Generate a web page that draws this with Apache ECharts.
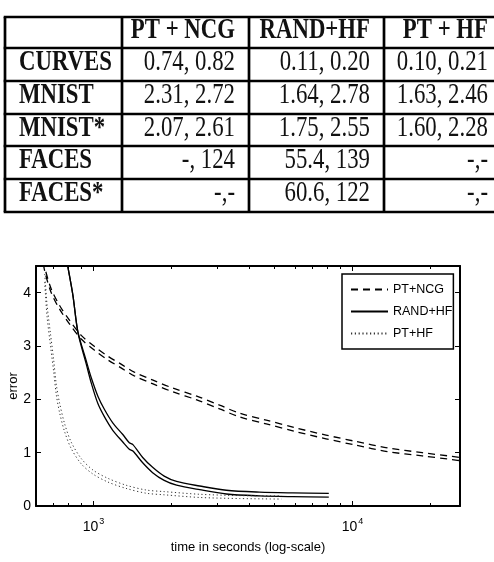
<!DOCTYPE html>
<html>
<head>
<meta charset="utf-8">
<script src="https://cdn.jsdelivr.net/npm/echarts@6/dist/echarts.min.js"></script>
<style>
html, body { margin: 0; padding: 0; background: #fff; }
#main { width: 494px; height: 562px; }
</style>
</head>
<body>
<div id="main"></div>
<script>
// ---- table values ----
var colNames = ['PT + NCG', 'RAND+HF', 'PT + HF'];
var rowNames = ['CURVES', 'MNIST', 'MNIST*', 'FACES', 'FACES*'];
var ptNcgCells = ['0.74, 0.82', '2.31, 2.72', '2.07, 2.61', '-, 124', '-,-'];
var randHfCells = ['0.11, 0.20', '1.64, 2.78', '1.75, 2.55', '55.4, 139', '60.6, 122'];
var ptHfCells = ['0.10, 0.21', '1.63, 2.46', '1.60, 2.28', '-,-', '-,-'];

// ---- curves: time in seconds / error ----
var ptNcgTime = [630, 648, 687, 740, 809, 897, 1009, 1136, 1278, 1438, 1698, 2026, 2505, 3069, 3664, 4645, 5973, 7900, 10310, 13640, 18580, 24250, 27000];
var ptNcgUpper = [4.83, 4.48, 4.07, 3.76, 3.48, 3.20, 2.99, 2.81, 2.66, 2.51, 2.36, 2.21, 2.06, 1.89, 1.74, 1.61, 1.47, 1.33, 1.21, 1.09, 1.00, 0.93, 0.90];
var ptNcgLower = [4.76, 4.41, 4.00, 3.69, 3.41, 3.13, 2.92, 2.74, 2.59, 2.44, 2.29, 2.14, 1.99, 1.82, 1.67, 1.54, 1.40, 1.26, 1.14, 1.02, 0.94, 0.87, 0.84];

var randHfTime = [780, 797, 833, 871, 937, 980, 1040, 1103, 1187, 1298, 1375, 1420, 1549, 1692, 1875, 2093, 2571, 3258, 4376, 5876, 8100];
var randHfUpper = [4.75, 4.48, 3.95, 3.27, 2.73, 2.41, 2.06, 1.81, 1.56, 1.34, 1.185, 1.15, 0.91, 0.725, 0.56, 0.46, 0.375, 0.295, 0.26, 0.245, 0.235];
var randHfLower = [4.75, 4.48, 3.95, 3.25, 2.67, 2.31, 1.92, 1.67, 1.42, 1.20, 1.065, 1.03, 0.81, 0.625, 0.48, 0.39, 0.305, 0.225, 0.19, 0.175, 0.165];

var ptHfTime = [648, 652, 662, 682, 702, 719, 740, 773, 820, 897, 995, 1136, 1336, 1596, 1875, 2571, 3664, 5321];
var ptHfUpper = [4.35, 4.20, 3.77, 3.24, 2.74, 2.27, 1.93, 1.55, 1.20, 0.89, 0.675, 0.52, 0.39, 0.30, 0.27, 0.22, 0.195, 0.19];
var ptHfLower = [4.20, 4.00, 3.55, 3.02, 2.52, 2.08, 1.75, 1.40, 1.08, 0.79, 0.60, 0.45, 0.33, 0.24, 0.21, 0.16, 0.14, 0.13];

var majorTicks = [1000, 10000];
var minorTicks = [700, 800, 900, 2000, 3000, 4000, 5000, 6000, 7000, 8000, 9000, 20000];

var mychart = echarts.init(document.getElementById('main'), null, { renderer: 'canvas' });

var sansFont = '"Liberation Sans", Arial, Helvetica, sans-serif';
var serifFont = '"Liberation Serif", "Times New Roman", serif';

// table drawn with graphic elements
var colX = [5, 122, 249, 384, 502];
var rowY = [17, 48, 81, 114, 146, 179, 212];
var tableCols = [ptNcgCells, randHfCells, ptHfCells];
var tableGraphics = [];
rowY.forEach(function (y) {
    tableGraphics.push({ type: 'line', shape: { x1: colX[0] - 1.3, y1: y, x2: 494, y2: y }, style: { stroke: '#000', lineWidth: 2.7 } });
});
colX.slice(0, 4).forEach(function (x) {
    tableGraphics.push({ type: 'line', shape: { x1: x, y1: rowY[0], x2: x, y2: rowY[rowY.length - 1] }, style: { stroke: '#000', lineWidth: 2.7 } });
});
function cellText(text, x, y, bold, align) {
    return {
        type: 'text', x: x, y: y, scaleX: 0.76,
        style: {
            text: text, fill: '#111',
            fontSize: 30, fontWeight: bold ? 'bold' : 'normal', fontFamily: serifFont,
            align: align, textAlign: align, verticalAlign: 'middle', textVerticalAlign: 'middle'
        }
    };
}
colNames.forEach(function (name, c) {
    tableGraphics.push(cellText(name, colX[c + 2] - 14, (rowY[0] + rowY[1]) / 2 - 2, true, 'right'));
});
rowNames.forEach(function (name, r) {
    var cy = (rowY[r + 1] + rowY[r + 2]) / 2 - 2;
    tableGraphics.push(cellText(name, 19, cy, true, 'left'));
    tableCols.forEach(function (col, c) {
        tableGraphics.push(cellText(col[r], colX[c + 2] - 14, cy, false, 'right'));
    });
});

function pairs(t, e) {
    return t.map(function (v, i) { return [v, e[i]]; });
}

var dashed = { color: '#000', width: 1.3, type: [7, 5] };
var solid = { color: '#000', width: 1.3, type: 'solid' };
var dotted = { color: '#333', width: 1, type: [1.2, 2.6] };

function lineSeries(name, data, style) {
    return { name: name, type: 'line', data: data, symbol: 'none', lineStyle: style, itemStyle: { color: '#000' }, smooth: 0.3, animation: false };
}

var xBase = { type: 'log', logBase: 10, min: 600, max: 26000, splitLine: { show: false } };
function xAx(pos, ticks, len, showLine, showLabel) {
    return Object.assign({}, xBase, {
        position: pos,
        axisLine: { show: showLine, onZero: false, lineStyle: { color: '#000', width: 2 } },
        axisTick: { show: true, inside: true, length: len, customValues: ticks, lineStyle: { color: '#000', width: 1 } },
        axisLabel: showLabel ? {
            customValues: majorTicks, margin: 11, color: '#000',
            formatter: function (v) { return '{b|10}{s|' + Math.round(Math.log10(v)) + '}'; },
            rich: {
                b: { fontSize: 14, fontFamily: sansFont, color: '#000', verticalAlign: 'bottom' },
                s: { fontSize: 9, fontFamily: sansFont, color: '#000', verticalAlign: 'bottom', padding: [0, 0, 8, 1] }
            }
        } : { show: false }
    });
}

var xAxes = [
    xAx('bottom', majorTicks, 5, true, true),
    xAx('bottom', minorTicks, 3, false, false),
    xAx('top', majorTicks, 5, true, false),
    xAx('top', minorTicks, 3, false, false)
];
xAxes[0].name = 'time in seconds (log-scale)';
xAxes[0].nameLocation = 'middle';
xAxes[0].nameGap = 35;
xAxes[0].nameMoveOverlap = false;
xAxes[0].nameTextStyle = { fontSize: 13, fontFamily: sansFont, color: '#000' };

function yAx(pos, showLabel) {
    return {
        type: 'value', position: pos, min: 0, max: 4.5, interval: 1,
        splitLine: { show: false },
        axisLine: { show: true, onZero: false, lineStyle: { color: '#000', width: 2 } },
        axisTick: { show: true, inside: true, length: 5, lineStyle: { color: '#000', width: 1 } },
        axisLabel: showLabel ? { color: '#000', fontSize: 14, fontFamily: sansFont, margin: 5, showMaxLabel: false } : { show: false }
    };
}
var yAxes = [yAx('left', true), yAx('right', false)];
yAxes[0].name = 'error';
yAxes[0].nameLocation = 'middle';
yAxes[0].nameGap = 16;
yAxes[0].nameMoveOverlap = false;
yAxes[0].nameTextStyle = { fontSize: 13, fontFamily: sansFont, color: '#000' };

var option = {
    backgroundColor: '#fff',
    animation: false,
    grid: { left: 36, right: 34, top: 266, bottom: 56, containLabel: false, outerBoundsMode: 'none' },
    legend: {
        orient: 'vertical', left: 342, top: 274,
        data: ['PT+NCG', 'RAND+HF', 'PT+HF'],
        itemWidth: 37, itemHeight: 12, itemGap: 9,
        padding: [9, 1, 9, 8],
        itemStyle: { opacity: 0, color: 'rgba(0,0,0,0)', borderColor: 'rgba(0,0,0,0)', borderWidth: 0 },
        backgroundColor: '#fff', borderColor: '#000', borderWidth: 1.5, borderRadius: 0,
        textStyle: { fontSize: 12.5, fontFamily: sansFont, color: '#000' }
    },
    xAxis: xAxes,
    yAxis: yAxes,
    graphic: tableGraphics,
    series: [
        lineSeries('PT+NCG', pairs(ptNcgTime, ptNcgUpper), dashed),
        lineSeries('PT+NCG', pairs(ptNcgTime, ptNcgLower), dashed),
        lineSeries('RAND+HF', pairs(randHfTime, randHfUpper), solid),
        lineSeries('RAND+HF', pairs(randHfTime, randHfLower), solid),
        lineSeries('PT+HF', pairs(ptHfTime, ptHfUpper), dotted),
        lineSeries('PT+HF', pairs(ptHfTime, ptHfLower), dotted)
    ]
};
mychart.setOption(option);
</script>
</body>
</html>
